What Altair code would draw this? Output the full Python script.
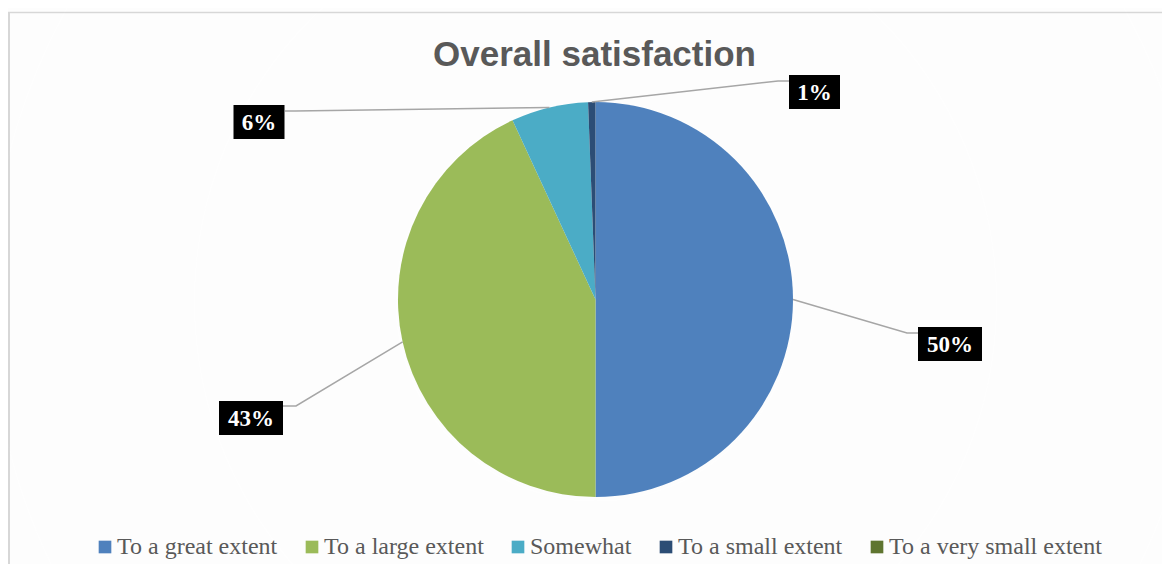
import math
import altair as alt
import pandas as pd

# ---------------- data ----------------
categories = ["To a great extent", "To a large extent", "Somewhat",
              "To a small extent", "To a very small extent"]
values = [50.0, 43.1, 6.3, 0.6, 0.0]
colors = ["#4F81BD", "#9BBB59", "#4BACC6", "#2C4D75", "#5F7530"]
title_text = "Overall satisfaction"

# ---------------- layout ----------------
W, H = 1154, 556
CX, CY, R = 587.5, 291.5, 197.5

# data-label box centres / leader elbows / attach points (layout only)
label_layout = {
    "To a great extent": dict(bx=942, by=336, ex=899, ey=325, ax=910, ay=325),
    "To a large extent": dict(bx=243, by=410, ex=288, ey=398, ax=275, ay=398),
    "Somewhat": dict(bx=251, by=114, ex=287, ey=103, ax=277, ay=103),
    "To a small extent": dict(bx=806.5, by=84, ex=770, ey=73, ax=781, ay=73),
}

pie_df = pd.DataFrame({"cat": categories, "val": values,
                       "idx": list(range(len(categories)))})

# label + leader line tables computed from the slice geometry
total = sum(values)
cum = 0.0
box_rows, line_rows = [], []
for c, v in zip(categories, values):
    mid = (cum + v / 2) / total * 2 * math.pi
    cum += v
    if c not in label_layout:
        continue
    L = label_layout[c]
    txt = f"{round(v):.0f}%"
    w = 38 + 13 * (len(txt) - 1)
    h = 34
    box_rows.append(dict(cat=c, txt=txt, x=L["bx"] - w / 2, x2=L["bx"] + w / 2,
                         y=L["by"] - h / 2, y2=L["by"] + h / 2,
                         tx=L["bx"], ty=L["by"]))
    px, py = CX + R * math.sin(mid), CY - R * math.cos(mid)
    for o, (lx, ly) in enumerate([(px, py), (L["ex"], L["ey"]), (L["ax"], L["ay"])]):
        line_rows.append(dict(cat=c, o=o, x=lx, y=ly))

box_df = pd.DataFrame(box_rows)
line_df = pd.DataFrame(line_rows)
ring_df = pd.DataFrame({"r": [R + 2 * k for k in range(1, 16)]})

color_scale = alt.Scale(domain=categories, range=colors)

# soft shadow around the pie
shadow = alt.Chart(ring_df).mark_arc(theta=0, theta2=2 * math.pi, color="black",
                                     opacity=0.006).encode(
    radius=alt.Radius("r:Q", scale=None),
    x=alt.value(CX), y=alt.value(CY + 2),
)

pie = alt.Chart(pie_df).mark_arc(radius=R, stroke="white", strokeWidth=0).encode(
    theta=alt.Theta("val:Q", stack=True),
    color=alt.Color("cat:N", scale=color_scale, sort=categories,
                    legend=alt.Legend(orient="none", legendX=85, legendY=527,
                                      direction="horizontal", title=None,
                                      symbolType="square", symbolSize=160,
                                      symbolStrokeWidth=0,
                                      labelFont="Liberation Serif",
                                      labelFontSize=24, labelColor="#595959",
                                      labelOffset=0, columnPadding=22,
                                      padding=0, labelLimit=400)),
    order=alt.Order("idx:Q"),
    x=alt.value(CX), y=alt.value(CY),
)

lines = alt.Chart(line_df).mark_line(color="#A6A6A6", strokeWidth=1.5).encode(
    x=alt.X("x:Q", scale=None, axis=None),
    y=alt.Y("y:Q", scale=None, axis=None),
    detail="cat:N",
    order="o:Q",
)

boxes = alt.Chart(box_df).mark_rect(color="black").encode(
    x=alt.X("x:Q", scale=None, axis=None), x2="x2:Q",
    y=alt.Y("y:Q", scale=None, axis=None), y2="y2:Q",
)

texts = alt.Chart(box_df).mark_text(color="white", font="Liberation Serif",
                                    fontWeight="bold", fontSize=23,
                                    baseline="middle", align="center", dy=1).encode(
    x=alt.X("tx:Q", scale=None, axis=None),
    y=alt.Y("ty:Q", scale=None, axis=None),
    text="txt:N",
)

title = alt.Chart(pd.DataFrame({"t": [title_text]})).mark_text(
    font="Liberation Sans", fontWeight="bold", fontSize=35, color="#595959",
    align="center", baseline="alphabetic").encode(
    x=alt.value(586.5), y=alt.value(58), text="t:N")

border_top = alt.Chart(pd.DataFrame({"a": [0]})).mark_rule(
    color="#D9D9D9", strokeWidth=1.5).encode(
    x=alt.value(0), x2=alt.value(W), y=alt.value(4.5))
border_left = alt.Chart(pd.DataFrame({"a": [0]})).mark_rule(
    color="#D9D9D9", strokeWidth=2).encode(
    x=alt.value(1), y=alt.value(4), y2=alt.value(H))

chart = alt.layer(border_top, border_left, shadow, pie, lines, boxes, texts,
                  title).properties(
    width=W, height=H, padding=0,
    autosize=alt.AutoSizeParams(type="none"),
).configure_view(stroke=None)

chart.save("out.html", embed_options={"renderer": "svg", "actions": False})
